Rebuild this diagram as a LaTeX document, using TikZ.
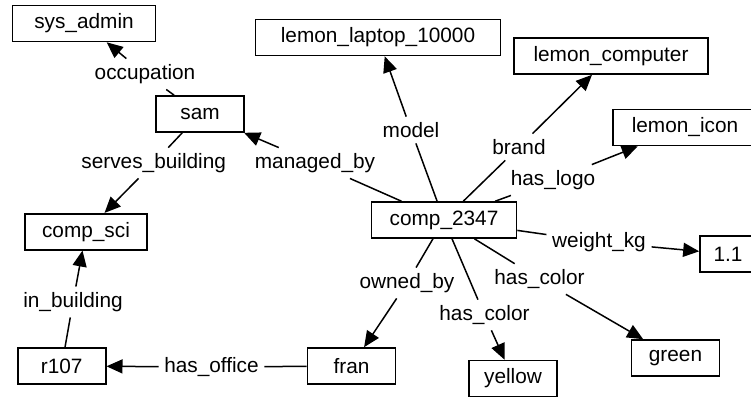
\documentclass[tikz,border=0pt]{standalone}
\usepackage{fontspec}
\setmainfont{Liberation Sans}
\usetikzlibrary{arrows.meta}
\tikzset{box/.style={draw=black, line width=0.8pt, minimum width=#1, minimum height=18pt, inner sep=2pt, font=\fontsize{10.4}{12}\selectfont},
box/.default={44pt},
rel/.style={inner sep=2.5pt, font=\fontsize{10.4}{12}\selectfont},
arr/.style={-{Triangle[length=8pt,width=7pt]}}}

\begin{document}
\begin{tikzpicture}[x=0.5pt, y=-0.5pt, line width=0.75pt]

\useasboundingbox[fill=white] (0,0) rectangle (751,398);

% resources
\node[box=71.5pt]  (sysadmin) at (84,23.5)    {sys\_admin};
\node[box=122.5pt] (laptop)   at (378,37.5)   {lemon\_laptop\_10000};
\node[box=97pt]    (computer) at (611,56)     {lemon\_computer};
\node[box=72pt]    (icon)     at (685,127.5)  {lemon\_icon};
\node[box]         (sam)      at (200,114)    {sam};
\node[box=72.5pt]  (comp)     at (444,220)    {comp\_2347};
\node[box=28pt]    (one)      at (728,254)    {1.1};
\node[box=61pt]    (sci)      at (86,231.7)   {comp\_sci};
\node[box]         (room)     at (61.7,366)   {r107};
\node[box]         (fran)     at (351.5,366)  {fran};
\node[box]         (yellow)   at (513,378.5)  {yellow};
\node[box]         (green)    at (675.5,358)  {green};

% properties
\node[rel] (occupation) at (145,74)    {occupation};
\node[rel] (serves)     at (153.7,163) {serves\_building};
\node[rel] (managed)    at (315,163)   {managed\_by};
\node[rel] (model)      at (411,130)   {model};
\node[rel] (brand)      at (519,147)   {brand};
\node[rel] (logo)       at (553,180)   {has\_logo};
\node[rel] (weight)     at (599,242)   {weight\_kg};
\node[rel] (colorg)     at (539.5,279) {has\_color};
\node[rel] (colory)     at (484.5,315) {has\_color};
\node[rel] (owned)      at (407,283)   {owned\_by};
\node[rel] (inbuilding) at (73,302)    {in\_building};
\node[rel] (office)     at (211.5,367) {has\_office};

\foreach \s/\l/\t in {sam/occupation/sysadmin, sam/serves/sci, comp/managed/sam,
    comp/model/laptop, comp/brand/computer, comp/logo/icon, comp/weight/one,
    comp/colorg/green, comp/colory/yellow, comp/owned/fran,
    room/inbuilding/sci, fran/office/room}
{
    \draw (\s) -- (\l);
    \draw[arr] (\l) -- (\t);
}

\end{tikzpicture}
\end{document}
